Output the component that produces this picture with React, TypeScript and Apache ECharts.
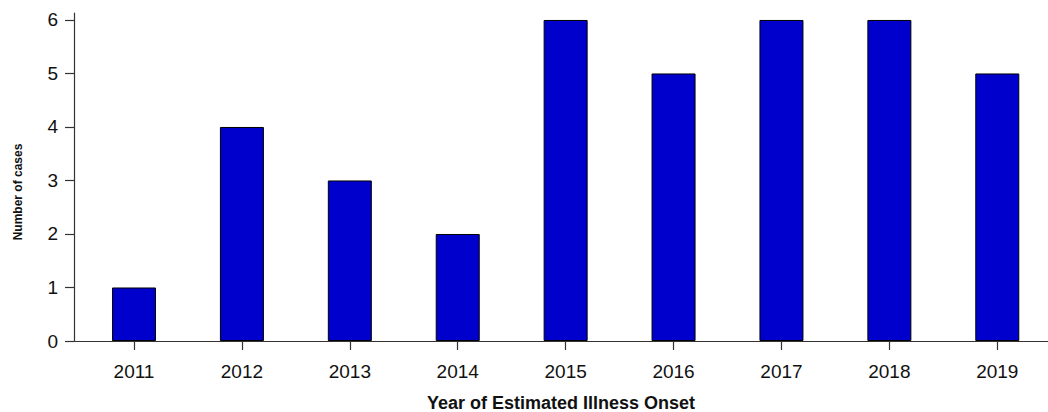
import React, { useEffect, useRef } from "react";
import * as echarts from "echarts";

const years = [2011, 2012, 2013, 2014, 2015, 2016, 2017, 2018, 2019];
const cases = [1, 4, 3, 2, 6, 5, 6, 6, 5];
const yTicks = [0, 1, 2, 3, 4, 5, 6];
const xTitle = "Year of Estimated Illness Onset";
const yTitle = "Number of cases";

export default function App() {
  const ref = useRef<HTMLDivElement>(null);
  useEffect(() => {
    if (!ref.current) return;
    const chart = echarts.init(ref.current, null, { renderer: "svg" });
    chart.setOption({
      animation: false,
      grid: { left: 74, right: 0, top: 13, bottom: 71, containLabel: false, outerBoundsMode: "none" },
      graphic: [
        {
          type: "text",
          x: 18,
          y: 192,
          rotation: Math.PI / 2,
          style: {
            text: yTitle,
            align: "center",
            verticalAlign: "middle",
            fontSize: 12,
            fontWeight: "bold",
            fill: "#111",
            fontFamily: "Liberation Sans, Arial, sans-serif",
          },
        },
      ],
      xAxis: {
        type: "value",
        min: 2010.444,
        max: 2019.47,
        splitLine: { show: false },
        axisLine: { show: true, onZero: false, lineStyle: { color: "#333", width: 1.2 } },
        axisTick: { show: true, length: 9, customValues: years, lineStyle: { color: "#333", width: 1.2 } },
        axisLabel: {
          customValues: years,
          margin: 21,
          fontSize: 19,
          color: "#111",
          fontFamily: "Liberation Sans, Arial, sans-serif",
          formatter: (v: number) => String(Math.round(v)),
        },
        name: xTitle,
        nameLocation: "middle",
        nameGap: 53,
        nameTextStyle: {
          fontSize: 18,
          fontWeight: "bold",
          color: "#111",
          fontFamily: "Liberation Sans, Arial, sans-serif",
        },
      },
      yAxis: {
        type: "value",
        min: 0,
        max: 6.13,
        splitLine: { show: false },
        axisLine: { show: true, lineStyle: { color: "#333", width: 1.2 } },
        axisTick: { show: true, length: 9, customValues: yTicks, lineStyle: { color: "#333", width: 1.2 } },
        axisLabel: {
          customValues: yTicks,
          margin: 16,
          fontSize: 19,
          color: "#111",
          fontFamily: "Liberation Sans, Arial, sans-serif",
        },
      },
      series: [
        {
          type: "bar",
          data: years.map((y, i) => [y, cases[i]]),
          barWidth: 44,
          itemStyle: { color: "#0000CC", borderColor: "#000", borderWidth: 1 },
        },
      ],
    });
    return () => chart.dispose();
  }, []);
  return <div ref={ref} style={{ width: 1048, height: 412, position: "absolute", left: 0, top: 0 }} />;
}
